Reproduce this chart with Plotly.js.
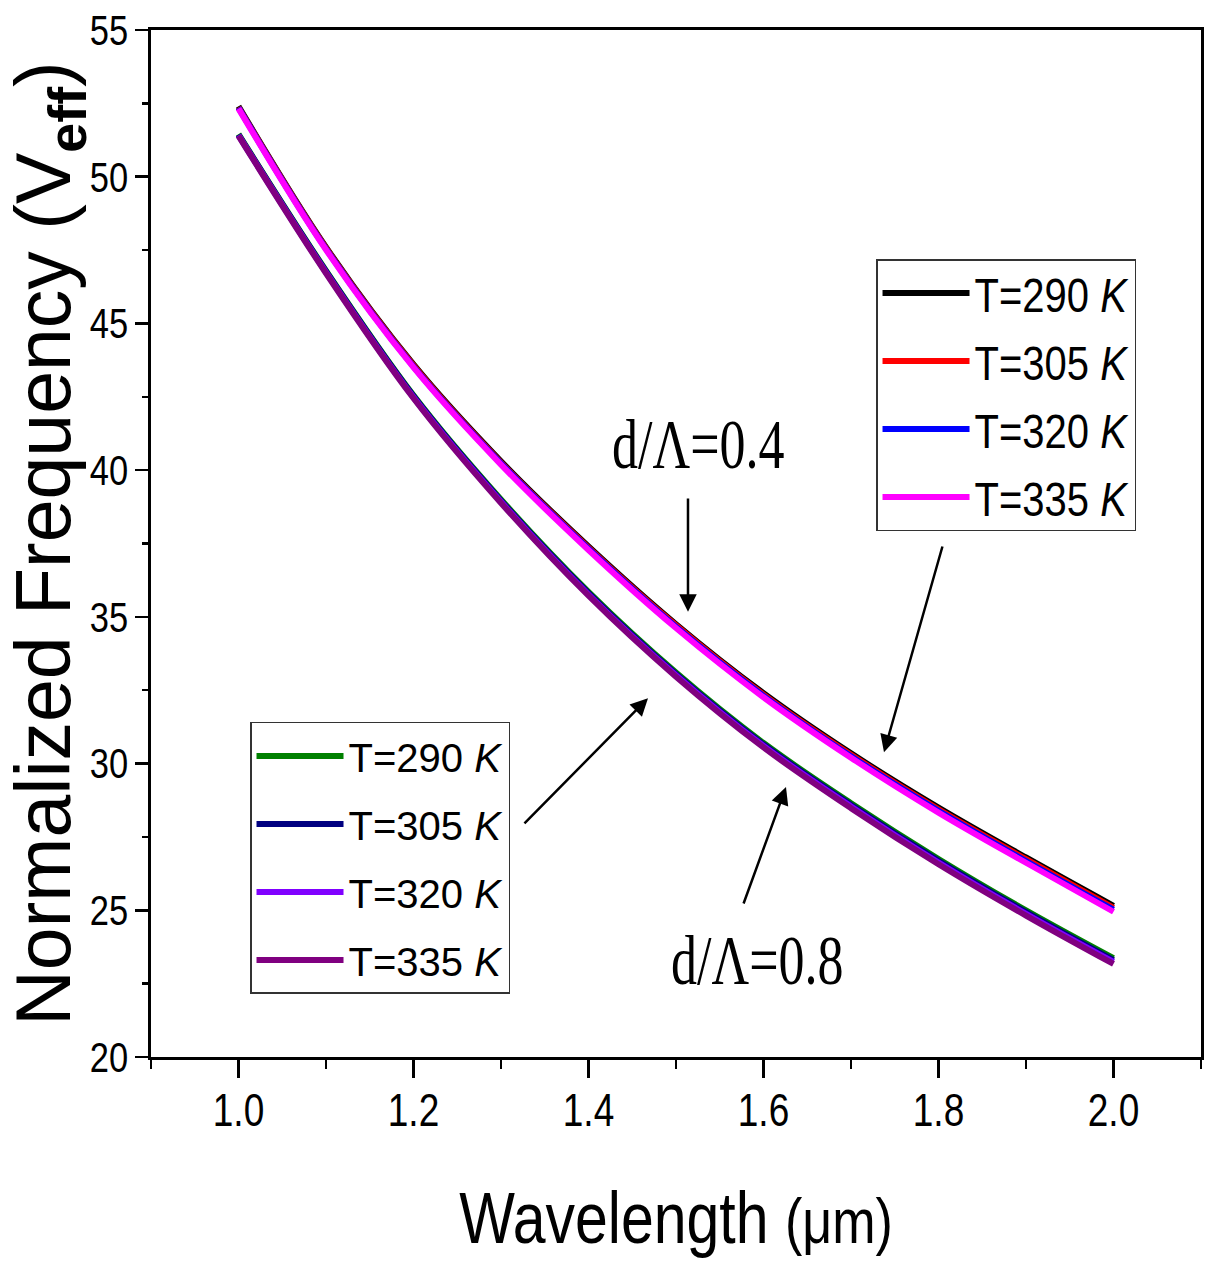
<!DOCTYPE html>
<html><head><meta charset="utf-8">
<script src="https://cdn.plot.ly/plotly-3.0.1.min.js"></script>
<style>html,body{margin:0;padding:0;background:#fff}#chart{width:1208px;height:1264px}</style>
</head><body><div id="chart"></div>
<script>
// wavelength (µm)
const wavelength = [1.0, 1.1, 1.2, 1.3, 1.4, 1.5, 1.6, 1.7, 1.8, 1.9, 2.0];

// d/Λ = 0.4 group
const v04_T290 = [52.40, 47.60, 43.60, 40.30, 37.40, 34.75, 32.40, 30.35, 28.50, 26.80, 25.15];
const v04_T305 = [52.37, 47.57, 43.57, 40.26, 37.36, 34.71, 32.35, 30.30, 28.44, 26.74, 25.08];
const v04_T320 = [52.35, 47.54, 43.53, 40.23, 37.32, 34.66, 32.31, 30.25, 28.39, 26.68, 25.02];
const v04_T335 = [52.32, 47.51, 43.50, 40.19, 37.28, 34.62, 32.26, 30.20, 28.33, 26.62, 24.95];

// d/Λ = 0.8 group
const v08_T290 = [51.45, 46.80, 42.55, 39.00, 35.85, 33.10, 30.70, 28.65, 26.75, 25.00, 23.37];
const v08_T305 = [51.43, 46.77, 42.52, 38.96, 35.81, 33.05, 30.65, 28.59, 26.69, 24.94, 23.30];
const v08_T320 = [51.41, 46.74, 42.48, 38.92, 35.76, 33.01, 30.60, 28.54, 26.63, 24.88, 23.24];
const v08_T335 = [51.39, 46.71, 42.45, 38.88, 35.72, 32.96, 30.55, 28.48, 26.57, 24.82, 23.17];

const seriesNames = ['T=290 <i>K</i>', 'T=305 <i>K</i>', 'T=320 <i>K</i>', 'T=335 <i>K</i>'];
const group04 = [v04_T290, v04_T305, v04_T320, v04_T335];
const group08 = [v08_T290, v08_T305, v08_T320, v08_T335];
const colors04 = ['#000000', '#ff0000', '#0000ff', '#ff00ff'];
const colors08 = ['#008000', '#000080', '#8000ff', '#800080'];

const SANS = '"Liberation Sans", Arial, sans-serif';
const SERIF = '"Liberation Serif", "Times New Roman", serif';

const traces = [];
group04.forEach((ys, i) => traces.push({
  x: wavelength, y: ys, type: 'scatter', mode: 'lines', name: seriesNames[i],
  line: {color: colors04[i], width: 6, shape: 'spline', smoothing: 1},
  legend: 'legend', legendgroup: 'a' + i
}));
group08.forEach((ys, i) => traces.push({
  x: wavelength, y: ys, type: 'scatter', mode: 'lines', name: seriesNames[i],
  line: {color: colors08[i], width: 6, shape: 'spline', smoothing: 1},
  legend: 'legend2', legendgroup: 'b' + i
}));

const arrow = (x, y, ax, ay) => ({
  x: x, y: y, ax: ax, ay: ay, xref: 'x', yref: 'y', axref: 'x', ayref: 'y',
  text: '', showarrow: true, arrowhead: 2, arrowsize: 1.4, arrowwidth: 2.5, arrowcolor: '#000'
});

const legendCommon = {
  bgcolor: '#ffffff', bordercolor: '#333333', borderwidth: 1.5,
  font: {family: SANS, size: 40, color: '#000'},
  itemwidth: 87, tracegroupgap: 13, xanchor: 'left', yanchor: 'top', traceorder: 'grouped'
};

const layout = {
  width: 1208, height: 1264,
  paper_bgcolor: '#ffffff', plot_bgcolor: '#ffffff',
  margin: {l: 151, r: 7, t: 30, b: 207},
  showlegend: true,
  xaxis: {
    range: [0.9, 2.1], dtick: 0.2, tick0: 0, tickformat: '.1f',
    showgrid: false, zeroline: false,
    showline: true, linecolor: '#000', linewidth: 3, mirror: true,
    ticks: 'outside', ticklen: 18, tickwidth: 2.5, tickcolor: '#000',
    minor: {dtick: 0.1, ticks: 'outside', ticklen: 9, tickwidth: 2.5, tickcolor: '#000', showgrid: false},
    tickfont: {family: SANS, size: 37, color: '#000'},
    title: {text: 'Wavelength <span style="font-size:52px">(μm)</span>', font: {family: SANS, size: 59, color: '#000'}, standoff: 68}
  },
  yaxis: {
    range: [20, 55], dtick: 5, tick0: 0,
    showgrid: false, zeroline: false,
    showline: true, linecolor: '#000', linewidth: 3, mirror: true,
    ticks: 'outside', ticklen: 13, tickwidth: 2.5, tickcolor: '#000',
    minor: {dtick: 2.5, ticks: 'outside', ticklen: 6, tickwidth: 2.5, tickcolor: '#000', showgrid: false},
    tickfont: {family: SANS, size: 34.5, color: '#000'},
    title: {text: 'Normalized Frequency (V<sub><b>eff</b></sub>)', font: {family: SANS, size: 77, color: '#000'}, standoff: 18}
  },
  legend: Object.assign({}, legendCommon, {x: 0.6905, y: 0.777}),
  legend2: Object.assign({}, legendCommon, {x: 0.0943, y: 0.3262}),
  annotations: [
    {x: 1.5251, y: 40.86, xref: 'x', yref: 'y', text: 'd/Λ=0.4', showarrow: false,
     font: {family: SERIF, size: 52, color: '#000'}},
    {x: 1.5926, y: 23.3, xref: 'x', yref: 'y', text: 'd/Λ=0.8', showarrow: false,
     font: {family: SERIF, size: 52, color: '#000'}},
    arrow(1.5137, 35.17, 1.5137, 39.085),
    arrow(1.7377, 30.39, 1.805, 37.45),
    arrow(1.468, 32.23, 1.3251, 27.91),
    arrow(1.6257, 29.20, 1.5766, 25.18)
  ]
};

// The reference uses a condensed face; emulate it by stretching text vertically.
function stretchY(selector, k) {
  document.querySelectorAll(selector).forEach(t => {
    const bb = t.getBBox();
    if (!bb.height) return;
    const em = bb.height / 1.117;
    const base = bb.y + bb.height * 0.81;
    const py = base - 0.36 * em;
    const prev = t.getAttribute('transform') || '';
    t.setAttribute('transform', (prev + ' translate(0,' + py + ') scale(1,' + k + ') translate(0,' + (-py) + ')').trim());
  });
}

Plotly.newPlot('chart', traces, layout, {staticPlot: true, displayModeBar: false}).then(() => {
  document.querySelectorAll('.legendlines path').forEach(p => p.setAttribute('d', 'M5,0h87'));
  stretchY('.xtick text', 1.25);
  stretchY('.ytick text', 1.22);
  stretchY('.legendtext', 1.22);
  stretchY('.xtitle', 1.22);
  stretchY('.annotation-text', 1.35);
});
</script>
</body></html>
